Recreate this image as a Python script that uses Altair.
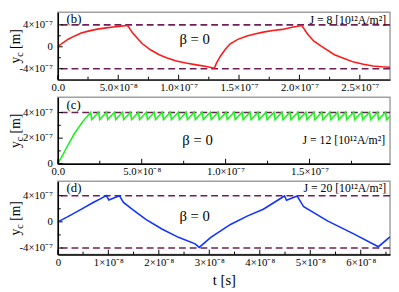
import altair as alt
import pandas as pd

FONT = "Liberation Serif"
DASH = "#6e1f58"

# ---------- panel (b): J = 8 (t in ns, y_c in 1e-7 m) ----------
red_t = [0, 3, 8.6, 14, 19.4, 26, 32.8, 40, 46, 52, 57.8,
         62, 66, 70, 77, 83.9, 90, 97.3, 106, 116, 123, 129.6,
         131.5, 134.7, 138.5, 142.7, 149, 156.5, 163, 170, 178, 186, 194, 202,
         207, 212, 218, 229, 237, 245, 253, 261, 268, 275]
red_y = [0, 0.55, 1.38, 1.98, 2.5, 2.9, 3.22, 3.45, 3.62, 3.77, 3.88,
         2.5, 1.5, 0.55, -0.6, -1.45, -2.0, -2.55, -2.95, -3.35, -3.6, -3.9,
         -2.9, -1.67, -0.5, 0.55, 1.35, 1.95, 2.35, 2.67, 2.95, 3.17, 3.55, 3.88,
         2.25, 1.02, 0.1, -1.45, -2.15, -2.8, -3.2, -3.5, -3.65, -3.75]

# ---------- panel (c): J = 12 ----------
green_rise_t = [0, 3.3, 6.2, 10.1, 14.9]
green_rise_y = [0, 0.76, 1.5, 2.4, 3.3]
green_peak_t = [19.6, 24.35, 29.1, 33.85, 38.6, 43.35, 48.1, 52.85, 57.6, 62.35,
                67.1, 71.85, 76.6, 81.35, 86.1, 90.85, 95.6, 100.35, 105.1, 109.85,
                114.6, 119.35, 124.1, 128.85, 133.6, 138.35, 143.1, 147.85, 152.6, 157.35,
                162.1, 166.85, 171.6, 176.35, 181.1, 185.85, 190.6, 195.35]
green_trough_t = [20.2, 24.95, 29.7, 34.45, 39.2, 43.95, 48.7, 53.45, 58.2, 62.95,
                  67.7, 72.45, 77.2, 81.95, 86.7, 91.45, 96.2, 100.95, 105.7, 110.45,
                  115.2, 119.95, 124.7, 129.45, 134.2, 138.95, 143.7, 148.45, 153.2, 157.95,
                  162.7, 167.45, 172.2, 176.95, 181.7, 186.45, 191.2, 195.95]
green_peak_y = 4.02
green_trough_y = 3.45
green_end_t = [198]
green_end_y = [3.7]

# ---------- panel (d): J = 20 ----------
blue_t = [0, 2.0, 4.6, 7.0, 8.5, 9.6, 10.1, 12.2, 13.0, 14.9, 17.5, 20.7, 23.9, 27.2,
          28.0, 30.3, 34.2, 37.5, 40.7, 44.9, 45.3, 47.4, 48.7, 53.5, 58.7, 63.5, 65.8]
blue_y = [0, 0.8, 1.9, 2.95, 3.55, 4.0, 3.35, 4.0, 2.96, 1.82, 0.34, -1.13, -2.37, -3.36,
          -3.9, -2.37, -0.4, 0.87, 1.93, 3.95, 3.3, 3.95, 2.3, 0.1, -1.88, -3.8, -2.3]

# ---------- ticks / labels ----------
b_xmaj = [0, 50, 100, 150, 200, 250]
b_xlab = ["0.0", "5.0×10⁻⁸", "1.0×10⁻⁷", "1.5×10⁻⁷", "2.0×10⁻⁷", "2.5×10⁻⁷"]
b_xmin = [25, 75, 125, 175, 225]
b_ymaj = [-4, 0, 4]
b_ylab = ["-4×10⁻⁷", "0", "4×10⁻⁷"]
b_ymin = [-2, 2]

c_xmaj = [0, 50, 100, 150]
c_xlab = ["0.0", "5.0×10⁻⁸", "1.0×10⁻⁷", "1.5×10⁻⁷"]
c_xmin = [25, 75, 125, 175]
c_ymaj = [0, 2, 4]
c_ylab = ["0", "2×10⁻⁷", "4×10⁻⁷"]
c_ymin = [1, 3]

d_xmaj = [0, 10, 20, 30, 40, 50, 60]
d_xlab = ["0", "1×10⁻⁸", "2×10⁻⁸", "3×10⁻⁸", "4×10⁻⁸", "5×10⁻⁸", "6×10⁻⁸"]
d_xmin = [5, 15, 25, 35, 45, 55, 65]
d_ymaj = [-4, 0, 4]
d_ylab = ["-4×10⁻⁷", "0", "4×10⁻⁷"]
d_ymin = [-2, 2]

W = 340


def label_expr(vals, labels):
    expr = "''"
    for v, l in reversed(list(zip(vals, labels))):
        expr = f"datum.value == {v} ? '{l}' : ({expr})"
    return expr


def txt(s, x, y, size, align="left", angle=0):
    kw = dict(font=FONT, fontSize=size, align=align, baseline="middle", color="black")
    if angle:
        kw["angle"] = angle
    return alt.Chart(pd.DataFrame({"s": [s]})).mark_text(**kw).encode(
        text="s:N", x=alt.value(x), y=alt.value(y))


def ytitle(H):
    mid = H / 2
    return [
        txt("y", -43, mid + 11, 14, align="right", angle=270),
        txt("c", -39, mid + 11, 10, align="left", angle=270),
        txt("[m]", -43, mid + 3, 14, align="left", angle=270),
    ]


def panel(t, y, color, xdom, ydom, H, xmaj, xlab, xmin, ymaj, ylab, ymin,
          dash_vals, texts, xtitle=None):
    df = pd.DataFrame({"t": t, "y": y, "i": list(range(len(t)))})
    common = dict(ticks=False, grid=False, labelOverlap=False, domainColor="black",
                  domainWidth=1.5, labelFont=FONT, labelFontSize=11, labelColor="black",
                  zindex=1)
    if xtitle:
        xaxis = alt.Axis(values=xmaj, labelExpr=label_expr(xmaj, xlab), labelFlush=False,
                         labelPadding=2, title=xtitle, titleFont=FONT, titleFontSize=15,
                         titleFontWeight="normal", titleColor="black", titlePadding=6,
                         **common)
    else:
        xaxis = alt.Axis(values=xmaj, labelExpr=label_expr(xmaj, xlab), labelFlush=False,
                         labelPadding=2, title=None, **common)
    yaxis = alt.Axis(values=ymaj, labels=False, title=None, ticks=False, grid=False,
                     domainColor="black", domainWidth=1.5, zindex=1)
    line = alt.Chart(df).mark_line(color=color, strokeWidth=1.6, clip=True).encode(
        x=alt.X("t:Q", scale=alt.Scale(domain=xdom, nice=False, zero=False), axis=xaxis),
        y=alt.Y("y:Q", scale=alt.Scale(domain=ydom, nice=False, zero=False), axis=yaxis),
        order="i:Q",
    )
    dash = alt.Chart(pd.DataFrame({"y": dash_vals})).mark_rule(
        color=DASH, strokeDash=[7, 4], strokeWidth=1.6, clip=True).encode(y="y:Q")
    xt1 = alt.Chart(pd.DataFrame({"t": xmaj})).mark_rule(color="black", strokeWidth=1).encode(
        x="t:Q", y=alt.value(H), y2=alt.value(H - 5))
    xt2 = alt.Chart(pd.DataFrame({"t": xmin})).mark_rule(color="black", strokeWidth=1).encode(
        x="t:Q", y=alt.value(H), y2=alt.value(H - 3))
    yt1 = alt.Chart(pd.DataFrame({"y": ymaj})).mark_rule(color="black", strokeWidth=1).encode(
        y="y:Q", x=alt.value(0), x2=alt.value(5))
    yt2 = alt.Chart(pd.DataFrame({"y": ymin})).mark_rule(color="black", strokeWidth=1).encode(
        y="y:Q", x=alt.value(0), x2=alt.value(3))
    ylabels = alt.Chart(pd.DataFrame({"y": ymaj, "lab": ylab})).mark_text(
        font=FONT, fontSize=11, align="right", baseline="middle", color="black").encode(
        y="y:Q", x=alt.value(-5), text="lab:N")
    layers = [dash, xt1, xt2, yt1, yt2, line, ylabels] + texts + ytitle(H)
    return alt.layer(*layers).properties(width=W, height=H)


Hb, Hc, Hd = 69, 68, 75

green_t = list(green_rise_t)
green_y = list(green_rise_y)
for pt, tt in zip(green_peak_t, green_trough_t):
    green_t += [pt, tt]
    green_y += [green_peak_y, green_trough_y]
green_t += green_end_t
green_y += green_end_y

pb = panel(red_t, red_y, "#ff1a1a", [0, 275], [-6, 6.3], Hb, b_xmaj, b_xlab, b_xmin,
           b_ymaj, b_ylab, b_ymin, [-4, 4],
           [txt("(b)", 9, 7, 13), txt("β = 0", 140, 28, 15, align="center"),
            txt("J = 8 [10¹²A/m²]", W - 4, 8, 12, align="right")])
pc = panel(green_t, green_y, "#22ee22", [0, 198], [0, 5.2], Hc, c_xmaj, c_xlab, c_xmin,
           c_ymaj, c_ylab, c_ymin, [4],
           [txt("(c)", 9, 8, 13), txt("β = 0", 143, 44, 15, align="center"),
            txt("J = 12 [10¹²A/m²]", W - 5, 44, 12, align="right")])
pd_ = panel(blue_t, blue_y, "#1133ff", [0, 65.8], [-5, 6.2], Hd, d_xmaj, d_xlab, d_xmin,
            d_ymaj, d_ylab, d_ymin, [-4, 4],
            [txt("(d)", 9, 7, 13), txt("β = 0", 140, 36, 15, align="center"),
             txt("J = 20 [10¹²A/m²]", W - 4, 7, 12, align="right")],
            xtitle="t [s]")

chart = alt.vconcat(pb, pc, pd_, spacing=18, bounds="flush").properties(
    padding=0
).configure_view(stroke="#a0a0a0", strokeWidth=1.5)

chart.save("out.html", embed_options={"renderer": "svg", "actions": False})
